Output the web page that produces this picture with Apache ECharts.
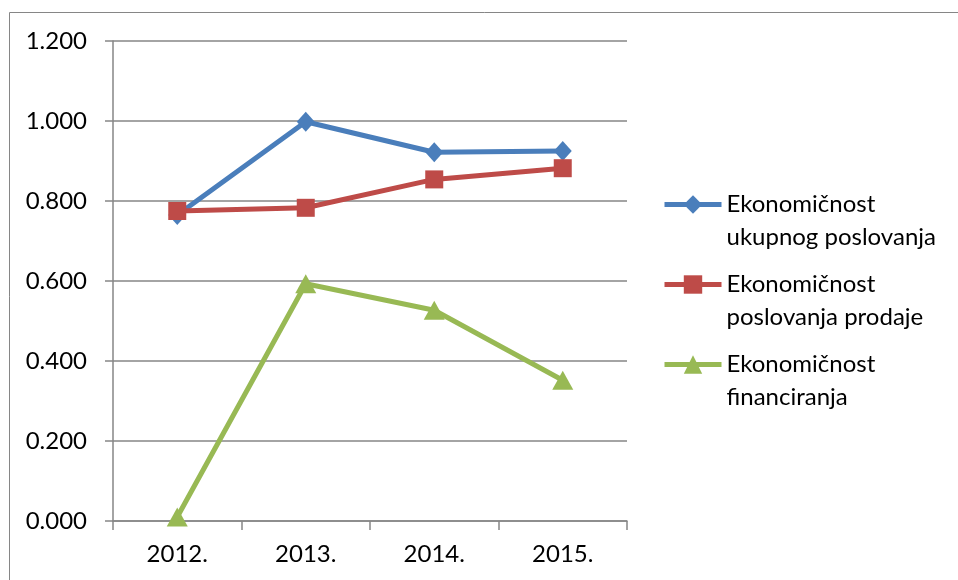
<!DOCTYPE html>
<html>
<head>
<meta charset="utf-8">
<script src="https://cdn.jsdelivr.net/npm/echarts@6/dist/echarts.min.js"></script>
<style>
html,body{margin:0;padding:0;background:#fff;}
#c{width:958px;height:580px;}
</style>
</head>
<body>
<div id="c"></div>
<script>
const categories = ['2012.', '2013.', '2014.', '2015.'];
const seriesNames = ['Ekonomičnost\nukupnog poslovanja', 'Ekonomičnost\nposlovanja prodaje', 'Ekonomičnost\nfinanciranja'];
const ukupno = [0.765, 0.998, 0.922, 0.925];
const prodaja = [0.775, 0.783, 0.854, 0.882];
const financiranje = [0.010, 0.593, 0.527, 0.352];
const yTicks = { min: 0, max: 1.2, interval: 0.2 };

const FONT = 'Lato';
const gray = '#868686';
const chart = echarts.init(document.getElementById('c'), null, { renderer: 'canvas' });
chart.setOption({
  animation: false,
  backgroundColor: '#fff',
  textStyle: { fontFamily: FONT },
  graphic: [{
    type: 'rect', silent: true, z: -10,
    shape: { x: 9.5, y: 12.5, width: 1200, height: 1200 },
    style: { fill: 'none', stroke: gray, lineWidth: 1 }
  }],
  grid: { left: 113, right: 331, top: 41, bottom: 59, containLabel: false },
  legend: {
    orient: 'vertical', left: 662, top: 155, padding: 0,
    itemWidth: 57, itemHeight: 23, itemGap: -19,
    lineStyle: { width: 5 },
    formatter: name => ' \n' + name,
    textStyle: { fontFamily: FONT, fontSize: 24, color: '#000', lineHeight: 33 },
    data: seriesNames
  },
  xAxis: {
    type: 'category', data: categories, boundaryGap: true,
    axisLine: { lineStyle: { color: gray, width: 1.5 } },
    axisTick: { show: true, length: 9, lineStyle: { color: gray, width: 1.5 } },
    axisLabel: { color: '#000', fontSize: 24, fontFamily: FONT, margin: 21 },
    splitLine: { show: false }
  },
  yAxis: {
    type: 'value', min: yTicks.min, max: yTicks.max, interval: yTicks.interval,
    axisLine: { show: true, lineStyle: { color: gray, width: 1.5 } },
    axisTick: { show: true, length: 8, lineStyle: { color: gray, width: 1.5 } },
    axisLabel: { color: '#000', fontSize: 24, fontFamily: FONT, margin: 26, formatter: v => v.toFixed(3) },
    splitLine: { show: true, lineStyle: { color: gray, width: 1.5 } }
  },
  series: [
    { name: seriesNames[0], type: 'line', data: ukupno, symbol: 'diamond', symbolSize: [18, 20],
      lineStyle: { color: '#4A7EBB', width: 5 }, itemStyle: { color: '#4A7EBB' }, z: 2 },
    { name: seriesNames[1], type: 'line', data: prodaja, symbol: 'rect', symbolSize: 18,
      lineStyle: { color: '#BE4B48', width: 5 }, itemStyle: { color: '#BE4B48' }, z: 3 },
    { name: seriesNames[2], type: 'line', data: financiranje, symbol: 'triangle', symbolSize: [21, 19],
      lineStyle: { color: '#98B954', width: 5 }, itemStyle: { color: '#98B954' }, z: 4 }
  ]
});
</script>
</body>
</html>
